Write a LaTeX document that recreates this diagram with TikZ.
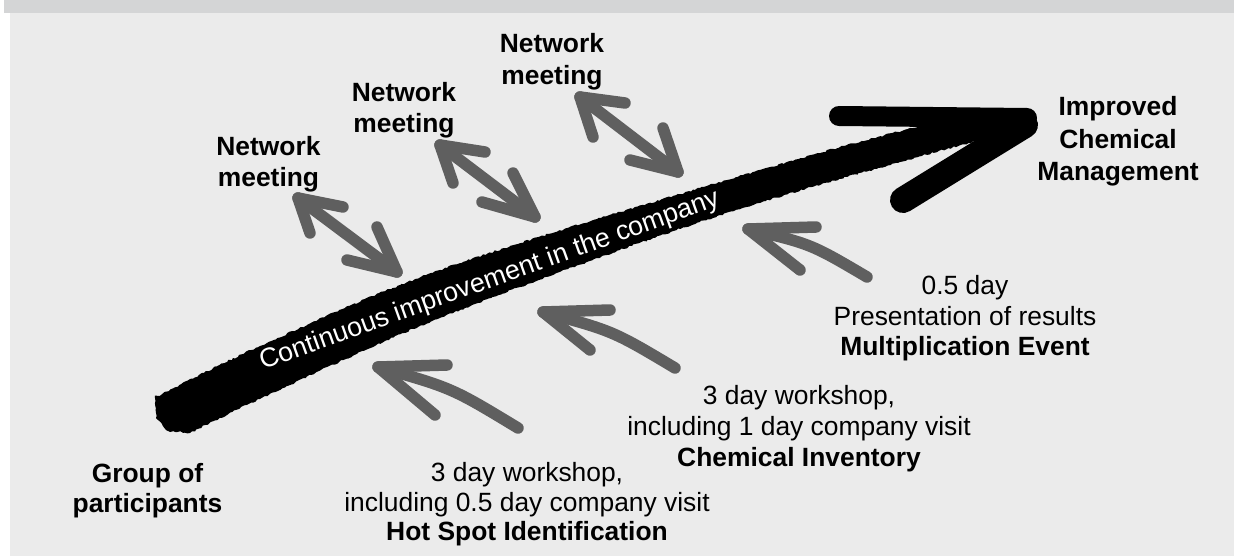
\documentclass[tikz,border=0pt]{standalone}
\usepackage{fontspec}
\setmainfont{Liberation Sans}
\usetikzlibrary{decorations.pathmorphing}
\definecolor{bgfill}{HTML}{EBEBEB}
\definecolor{topband}{HTML}{D4D5D6}
\definecolor{brush}{HTML}{5F5F5F}
\begin{document}
\pgfmathsetseed{7}
\begin{tikzpicture}[x=1pt,y=-1pt,
  lbl/.style={inner sep=0pt, anchor=base, font=\fontsize{26.4}{30}\selectfont},
  blbl/.style={inner sep=0pt, anchor=base, font=\fontsize{26.4}{30}\selectfont\bfseries},
  graystroke/.style={draw=brush, line width=11.5pt, line cap=round, line join=round},
  rough/.style={decorate, decoration={random steps, segment length=2.5pt, amplitude=0.9pt}},
]
\useasboundingbox (0,0) rectangle (1234,556);
\fill[white] (0,0) rectangle (1234,556);
\fill[bgfill] (10,13) rectangle (1234,556);
\fill[topband] (4,0) rectangle (1234,13);

% main black arrow (shaft)
\fill[black, rough]
  plot[smooth, tension=0.6] coordinates {(155,398) (260,346) (440,270) (700,188) (918,127) (1030,113)}
  -- plot[smooth, tension=0.6] coordinates {(1036,126) (900,162) (700,222) (440,318) (260,399) (190,433)}
  -- (168,431) -- (156,418) -- cycle;
% arrow head barbs
\draw[black, line width=20pt, line cap=round] (839,116) -- (1027,118);
\draw[black, line width=26pt, line cap=round] (903,200) -- (1025,125);

% text on the band
\node[inner sep=0pt, anchor=base west, text=white, rotate=19.8, font=\fontsize{26.8}{30}\selectfont] (band) at (263,370) {Continuous improvement in the company};

% double arrows (network meetings)
\coordinate (d1a) at (298,198); \coordinate (d1b) at (397,272);
\coordinate (d1a1) at (343,207); \coordinate (d1a2) at (310,233);
\coordinate (d1b1) at (377,227); \coordinate (d1b2) at (347,260);
\coordinate (d2a) at (440,145); \coordinate (d2b) at (535,217);
\coordinate (d2a1) at (485,152); \coordinate (d2a2) at (453,183);
\coordinate (d2b1) at (513,173); \coordinate (d2b2) at (482,202);
\coordinate (d3a) at (580,97); \coordinate (d3b) at (678,172);
\coordinate (d3a1) at (625,103); \coordinate (d3a2) at (593,137);
\coordinate (d3b1) at (663,128); \coordinate (d3b2) at (630,160);
\foreach \i in {1,2,3}{
  \draw[graystroke] (d\i a) -- (d\i b);
  \draw[graystroke] (d\i a1) -- (d\i a) -- (d\i a2);
  \draw[graystroke] (d\i b1) -- (d\i b) -- (d\i b2);
}

% single arrows (workshops / event)
\coordinate (s1t) at (378,367); \coordinate (s1e) at (518,428);
\coordinate (s1b1) at (447,365); \coordinate (s1b2) at (435,415);
\coordinate (s2t) at (543,312); \coordinate (s2e) at (675,368);
\coordinate (s2b1) at (610,310); \coordinate (s2b2) at (590,350);
\coordinate (s3t) at (748,229); \coordinate (s3e) at (867,277);
\coordinate (s3b1) at (816,227); \coordinate (s3b2) at (800,270);
\draw[graystroke] (s1e) .. controls (452,388) .. (s1t);
\draw[graystroke] (s2e) .. controls (613,331) .. (s2t);
\draw[graystroke] (s3e) .. controls (811,244) .. (s3t);
\foreach \i in {1,2,3}{
  \draw[graystroke] (s\i b1) -- (s\i t) -- (s\i b2);
}

% labels
\node[blbl] (nm1a) at (268.5,156) {Network};
\node[blbl] (nm1b) at (268.5,187) {meeting};
\node[blbl] (nm2a) at (404,102) {Network};
\node[blbl] (nm2b) at (404,133) {meeting};
\node[blbl] (nm3a) at (552,53) {Network};
\node[blbl] (nm3b) at (552,85) {meeting};

\node[blbl] (ga) at (147.5,482) {Group of};
\node[blbl] (gb) at (147.5,512) {participants};

\node[blbl] (ia) at (1118,116) {Improved};
\node[blbl] (ib) at (1118,148.5) {Chemical};
\node[blbl] (ic) at (1118,181) {Management};

\node[lbl]  (ma) at (965,294.5) {0.5 day};
\node[lbl]  (mb) at (965,325) {Presentation of results};
\node[blbl] (mc) at (965,355.5) {Multiplication Event};

\node[lbl]  (ca) at (799,404.5) {3 day workshop,};
\node[lbl]  (cb) at (799,435) {including 1 day company visit};
\node[blbl] (cc) at (799,466) {Chemical Inventory};

\node[lbl]  (ha) at (527,481) {3 day workshop,};
\node[lbl]  (hb) at (527,511) {including 0.5 day company visit};
\node[blbl] (hc) at (527,540) {Hot Spot Identification};
\end{tikzpicture}
\end{document}
